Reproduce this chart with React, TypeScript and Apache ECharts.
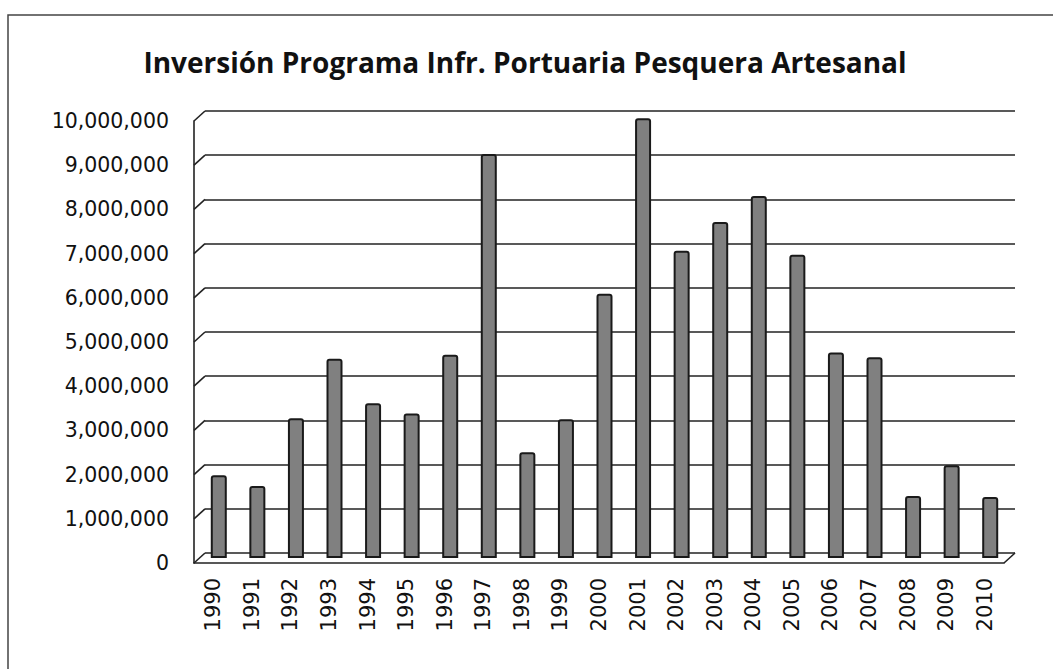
import React, { useEffect, useRef } from "react";
import * as echarts from "echarts";

const years = ["1990","1991","1992","1993","1994","1995","1996","1997","1998","1999","2000","2001","2002","2003","2004","2005","2006","2007","2008","2009","2010"];
const investment = [1870000,1630000,3160000,4510000,3500000,3270000,4600000,9140000,2390000,3140000,5980000,9950000,6950000,7600000,8190000,6860000,4650000,4540000,1400000,2100000,1380000];
const yTicks = [0,1000000,2000000,3000000,4000000,5000000,6000000,7000000,8000000,9000000,10000000];
const titleText = "Inversión Programa Infr. Portuaria Pesquera Artesanal";

const fmt = (v: number) => v.toLocaleString("en-US");

export default function App() {
  const ref = useRef<HTMLDivElement>(null);
  useEffect(() => {
    if (!ref.current) return;
    const chart = echarts.init(ref.current, null, { renderer: "svg" });
    const back = { left: 205, right: 38, top: 111, bottom: 116 };
    const mid = { left: 199.5, right: 43.5, top: 116, bottom: 111 };
    const front = { left: 194, right: 49, top: 121, bottom: 106 };
    const yBase = { type: "value", min: 0, max: 10000000, interval: 1000000 };
    chart.setOption({
      animation: false,
      backgroundColor: "#ffffff",
      title: {
        text: titleText,
        left: 520,
        top: 43,
        textAlign: "center",
        textStyle: { fontFamily: "Open Sans", fontWeight: "bold", fontSize: 28, color: "#111" },
      },
      graphic: [
        {
          type: "rect",
          shape: { x: 8, y: 15, width: 1200, height: 800 },
          style: { fill: "none", stroke: "#444", lineWidth: 1.5 },
          silent: true,
        },
      ],
      grid: [
        { ...back, containLabel: false },
        { ...mid, containLabel: false },
        { ...front, containLabel: false },
      ],
      xAxis: [
        { type: "category", data: years, gridIndex: 0, show: false },
        { type: "category", data: years, gridIndex: 1, show: false },
        {
          type: "category", data: years, gridIndex: 2,
          axisLine: { show: true, lineStyle: { color: "#222", width: 1.6 } },
          axisTick: { show: false },
          axisLabel: { rotate: 90, margin: 15, fontFamily: "DejaVu Sans", fontSize: 21, color: "#111" },
        },
      ],
      yAxis: [
        {
          ...yBase, gridIndex: 0,
          axisLine: { show: false }, axisTick: { show: false }, axisLabel: { show: false },
          splitLine: { show: true, lineStyle: { color: "#222", width: 1.6 } },
        },
        { ...yBase, gridIndex: 1, show: false, splitLine: { show: false } },
        {
          ...yBase, gridIndex: 2,
          axisLine: { show: true, lineStyle: { color: "#222", width: 1.6 } },
          axisTick: { show: false },
          splitLine: { show: false },
          axisLabel: { margin: 25, fontFamily: "DejaVu Sans", fontSize: 20.5, color: "#111", formatter: (v: number) => fmt(v) },
        },
      ],
      series: [
        {
          type: "custom",
          xAxisIndex: 0,
          yAxisIndex: 0,
          data: yTicks.map((t) => [0, t]),
          silent: true,
          renderItem: (params: any, api: any) => {
            const cs = params.coordSys;
            const p = api.coord([0, api.value(1)]);
            const children: any[] = [
              {
                type: "line",
                shape: { x1: cs.x - 11, y1: p[1] + 10, x2: cs.x, y2: p[1] },
                style: { stroke: "#222", lineWidth: 1.6 },
              },
            ];
            if (api.value(1) === 0) {
              children.push({
                type: "line",
                shape: { x1: cs.x + cs.width - 11, y1: p[1] + 10, x2: cs.x + cs.width, y2: p[1] },
                style: { stroke: "#222", lineWidth: 1.6 },
              });
            }
            return { type: "group", children };
          },
        },
        {
          type: "bar",
          xAxisIndex: 1,
          yAxisIndex: 1,
          data: investment,
          barWidth: 16,
          itemStyle: { color: "#808080", borderColor: "#1a1a1a", borderWidth: 2, borderRadius: [2, 2, 0, 0] },
        },
      ],
    });
    return () => chart.dispose();
  }, []);
  return <div ref={ref} style={{ position: "fixed", left: 0, top: 0, width: 1053, height: 669 }} />;
}
